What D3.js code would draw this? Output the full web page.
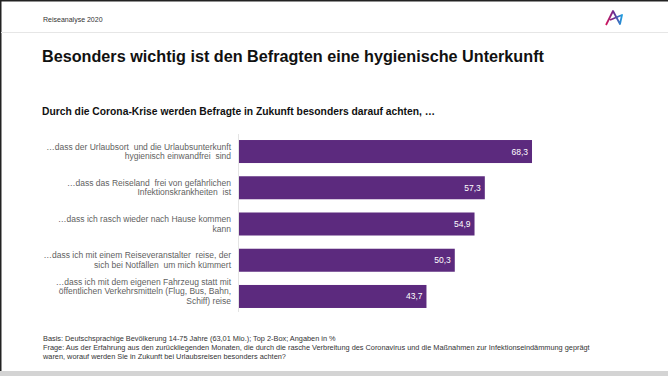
<!DOCTYPE html>
<html>
<head>
<meta charset="utf-8">
<script src="https://cdn.jsdelivr.net/npm/d3@7"></script>
<style>
  body { margin: 0; background: #fff; }
  svg { display: block; font-family: "Liberation Sans", Arial, sans-serif; }
</style>
</head>
<body>
<div id="chart"></div>
<script>

// data
var categories = [
    ["…dass der Urlaubsort  und die Urlaubsunterkunft", "hygienisch einwandfrei  sind"],
    ["…dass das Reiseland  frei von gefährlichen", "Infektionskrankheiten  ist"],
    ["…dass ich rasch wieder nach Hause kommen", "kann"],
    ["…dass ich mit einem Reiseveranstalter  reise, der", "sich bei Notfällen  um mich kümmert"],
    ["…dass ich mit dem eigenen Fahrzeug statt mit", "öffentlichen Verkehrsmitteln (Flug, Bus, Bahn,", "Schiff) reise"]
];
var values = [68.3, 57.3, 54.9, 50.3, 43.7];

var headerText = "Reiseanalyse 2020";
var titleText = "Besonders wichtig ist den Befragten eine hygienische Unterkunft";
var subtitleText = "Durch die Corona-Krise werden Befragte in Zukunft besonders darauf achten, …";
var footnotes = [
    "Basis: Deutschsprachige Bevölkerung 14-75 Jahre (63,01 Mio.); Top 2-Box; Angaben in %",
    "Frage: Aus der Erfahrung aus den zurückliegenden Monaten, die durch die rasche Verbreitung des Coronavirus und die Maßnahmen zur Infektionseindämmung geprägt",
    "waren, worauf werden Sie in Zukunft bei Urlaubsreisen besonders achten?"
];

var width = 668, height = 376;

var svg = d3.select("#chart").append("svg")
    .attr("width", width)
    .attr("height", height);

// frame
svg.append("rect").attr("x", 0).attr("y", 0).attr("width", width).attr("height", height).attr("fill", "#fff");
svg.append("rect").attr("x", 0).attr("y", 0).attr("width", width).attr("height", 1.5).attr("fill", "#222");
svg.append("rect").attr("x", 0).attr("y", 0).attr("width", 1.5).attr("height", height).attr("fill", "#222");
svg.append("rect").attr("x", 0).attr("y", 371).attr("width", width).attr("height", 5).attr("fill", "#d4d4d4");

// header
svg.append("text")
    .attr("x", 43).attr("y", 22)
    .attr("font-size", 7)
    .attr("fill", "#333")
    .text(headerText);

svg.append("line")
    .attr("x1", 1).attr("x2", width)
    .attr("y1", 32.5).attr("y2", 32.5)
    .attr("stroke", "#e6e6e6");

// logo
var grad = svg.append("defs").append("linearGradient")
    .attr("id", "logoGrad").attr("x1", "0%").attr("x2", "100%");
grad.append("stop").attr("offset", "0%").attr("stop-color", "#d4145a");
grad.append("stop").attr("offset", "50%").attr("stop-color", "#6a2c91");
grad.append("stop").attr("offset", "100%").attr("stop-color", "#1e9fe0");
svg.append("path")
    .attr("d", "M606,25 L613,11 L620,24 L622,15 L610,20")
    .attr("fill", "none")
    .attr("stroke", "url(#logoGrad)")
    .attr("stroke-width", 1.8)
    .attr("stroke-linejoin", "round");

// titles
svg.append("text")
    .attr("x", 42).attr("y", 62)
    .attr("font-size", 16.2)
    .attr("font-weight", "bold")
    .attr("fill", "#111")
    .text(titleText);

svg.append("text")
    .attr("x", 42).attr("y", 115)
    .attr("font-size", 10.3)
    .attr("font-weight", "bold")
    .attr("fill", "#111")
    .text(subtitleText);

// scales
var x = d3.scaleLinear().domain([0, 100]).range([239, 668]);
var y = d3.scaleBand()
    .domain(d3.range(values.length))
    .range([133.5, 314.5])
    .paddingInner(0.365)
    .paddingOuter(0.18);

// axis line
svg.append("line")
    .attr("x1", 238.5).attr("x2", 238.5)
    .attr("y1", 134).attr("y2", 312)
    .attr("stroke", "#e4e4e4");

// bars
svg.selectAll(".bar")
    .data(values)
    .enter().append("rect")
    .attr("class", "bar")
    .attr("x", x(0))
    .attr("y", function (d, i) { return y(i); })
    .attr("width", function (d) { return x(d) - x(0); })
    .attr("height", y.bandwidth())
    .attr("fill", "#5c2a7e");

// value labels
svg.selectAll(".val")
    .data(values)
    .enter().append("text")
    .attr("class", "val")
    .attr("x", function (d) { return x(d) - 4; })
    .attr("y", function (d, i) { return y(i) + y.bandwidth() / 2; })
    .attr("dy", "0.35em")
    .attr("text-anchor", "end")
    .attr("font-size", 8.5)
    .attr("fill", "#fff")
    .text(function (d) { return d3.format(".1f")(d).replace(".", ","); });

// category labels
var lineH = 9.5;
var labels = svg.selectAll(".cat")
    .data(categories)
    .enter().append("text")
    .attr("class", "cat")
    .attr("text-anchor", "end")
    .attr("font-size", 8.5)
    .attr("fill", "#5f5f5f")
    .style("white-space", "pre");

labels.each(function (lines, i) {
    var cy = y(i) + y.bandwidth() / 2;
    var top = cy - (lines.length - 1) * lineH / 2;
    if (lines.length > 2) top -= 5;
    d3.select(this).selectAll("tspan")
        .data(lines)
        .enter().append("tspan")
        .attr("x", 231)
        .attr("y", function (l, j) { return top + j * lineH; })
        .attr("dy", "0.35em")
        .text(function (l) { return l; });
});

// footnotes
svg.selectAll(".foot")
    .data(footnotes)
    .enter().append("text")
    .attr("class", "foot")
    .attr("x", 43)
    .attr("y", function (d, i) { return 341 + i * 9; })
    .attr("font-size", 7.35)
    .attr("fill", "#333")
    .text(function (d) { return d; });

</script>
</body>
</html>
